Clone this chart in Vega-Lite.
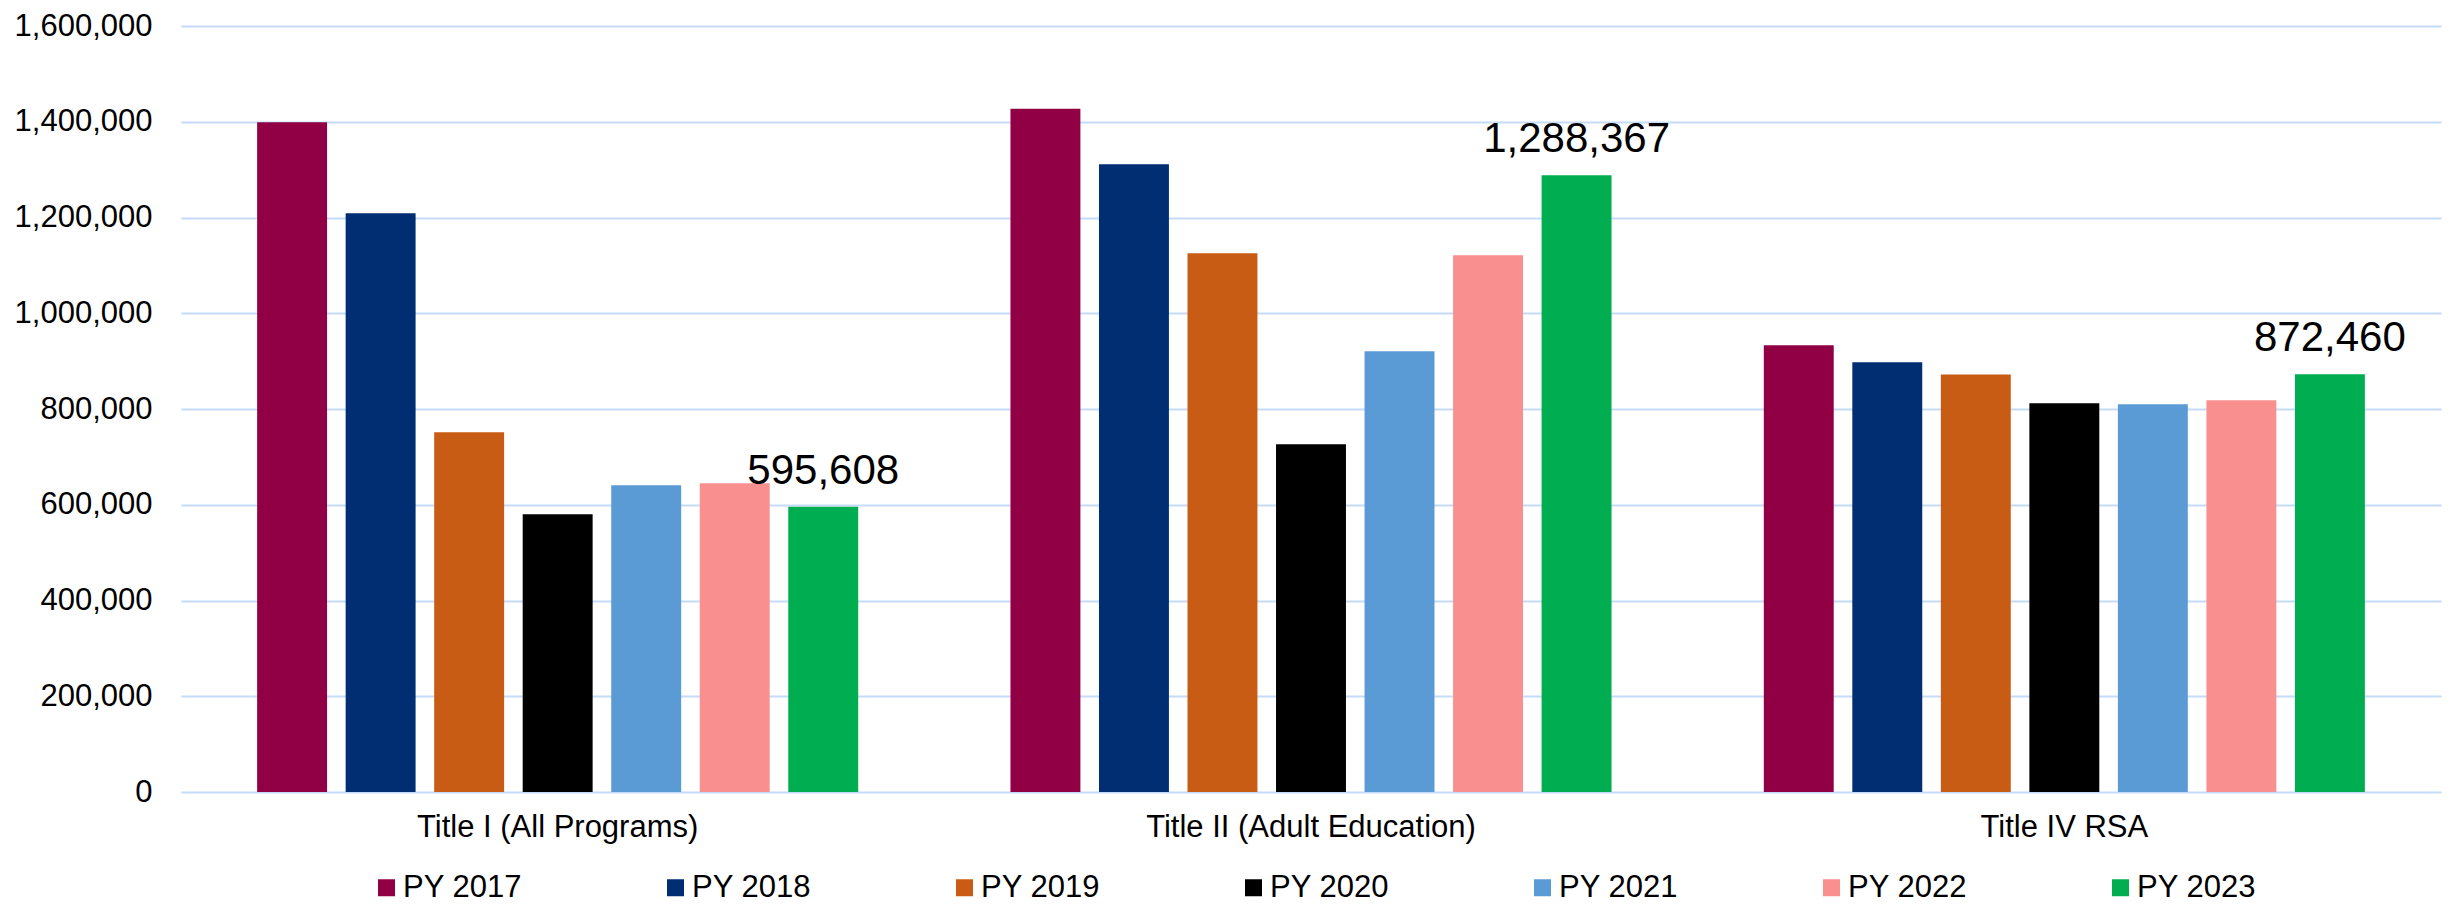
{
  "$schema": "https://vega.github.io/schema/vega-lite/v6.json",
  "width": 2260,
  "height": 766,
  "autosize": {"type": "none"},
  "padding": {"left": 181, "top": 26, "right": 14, "bottom": 112},
  "background": "white",
  "config": {"view": {"stroke": null}, "font": "Liberation Sans"},
  "data": {
    "values": [
      {"program": "Title I (All Programs)", "year": "PY 2017", "value": 1398800},
      {"program": "Title I (All Programs)", "year": "PY 2018", "value": 1208800},
      {"program": "Title I (All Programs)", "year": "PY 2019", "value": 751300},
      {"program": "Title I (All Programs)", "year": "PY 2020", "value": 580000},
      {"program": "Title I (All Programs)", "year": "PY 2021", "value": 640600},
      {"program": "Title I (All Programs)", "year": "PY 2022", "value": 644800},
      {"program": "Title I (All Programs)", "year": "PY 2023", "value": 595608},
      {"program": "Title II (Adult Education)", "year": "PY 2017", "value": 1427400},
      {"program": "Title II (Adult Education)", "year": "PY 2018", "value": 1311100},
      {"program": "Title II (Adult Education)", "year": "PY 2019", "value": 1125200},
      {"program": "Title II (Adult Education)", "year": "PY 2020", "value": 726300},
      {"program": "Title II (Adult Education)", "year": "PY 2021", "value": 920500},
      {"program": "Title II (Adult Education)", "year": "PY 2022", "value": 1121000},
      {"program": "Title II (Adult Education)", "year": "PY 2023", "value": 1288367},
      {"program": "Title IV RSA", "year": "PY 2017", "value": 933000},
      {"program": "Title IV RSA", "year": "PY 2018", "value": 897600},
      {"program": "Title IV RSA", "year": "PY 2019", "value": 872000},
      {"program": "Title IV RSA", "year": "PY 2020", "value": 811900},
      {"program": "Title IV RSA", "year": "PY 2021", "value": 809800},
      {"program": "Title IV RSA", "year": "PY 2022", "value": 818200},
      {"program": "Title IV RSA", "year": "PY 2023", "value": 872460}
    ]
  },
  "encoding": {
    "x": {
      "field": "program",
      "type": "nominal",
      "sort": ["Title I (All Programs)", "Title II (Adult Education)", "Title IV RSA"],
      "scale": {"paddingInner": 0, "paddingOuter": 0},
      "axis": {
        "title": null,
        "labelAngle": 0,
        "domain": false,
        "ticks": false,
        "grid": false,
        "labelPadding": 20,
        "labelFontSize": 31,
        "labelLimit": 1000,
        "labelColor": "#000000",
        "labelFont": "Liberation Sans"
      }
    },
    "xOffset": {
      "field": "year",
      "type": "nominal",
      "scale": {
        "domain": ["PY 2017", "PY 2018", "PY 2019", "PY 2020", "PY 2021", "PY 2022", "PY 2023"],
        "paddingInner": 0.21,
        "paddingOuter": 0.86
      }
    },
    "y": {
      "field": "value",
      "type": "quantitative",
      "scale": {"domain": [0, 1600000], "nice": false},
      "axis": {
        "title": null,
        "values": [0, 200000, 400000, 600000, 800000, 1000000, 1200000, 1400000, 1600000],
        "format": ",.0f",
        "domain": false,
        "ticks": false,
        "labelPadding": 29,
        "labelFontSize": 31,
        "labelColor": "#000000",
        "labelFont": "Liberation Sans",
        "gridColor": "#C6DBF8",
        "gridWidth": 2
      }
    }
  },
  "layer": [
    {
      "mark": {"type": "bar"},
      "encoding": {
        "color": {
          "field": "year",
          "type": "nominal",
          "scale": {
            "domain": ["PY 2017", "PY 2018", "PY 2019", "PY 2020", "PY 2021", "PY 2022", "PY 2023"],
            "range": ["#910044", "#012D72", "#C95C15", "#000000", "#5B9BD5", "#FA8F8F", "#00AD50"]
          },
          "legend": {
            "title": null,
            "orient": "none",
            "legendX": 190,
            "legendY": 846,
            "direction": "horizontal",
            "columns": 7,
            "columnPadding": 138,
            "symbolType": "square",
            "symbolSize": 289,
            "symbolStrokeWidth": 0,
            "symbolOpacity": 1,
            "labelFontSize": 31,
            "labelFont": "Liberation Sans",
            "labelColor": "#000000",
            "labelOffset": 1,
            "labelLimit": 300
          }
        }
      }
    },
    {
      "transform": [{"filter": "datum.year === 'PY 2023'"}],
      "mark": {"type": "text", "fontSize": 42, "baseline": "alphabetic", "dy": -23, "color": "#000000", "font": "Liberation Sans"},
      "encoding": {
        "text": {"field": "value", "type": "quantitative", "format": ","}
      }
    }
  ]
}
